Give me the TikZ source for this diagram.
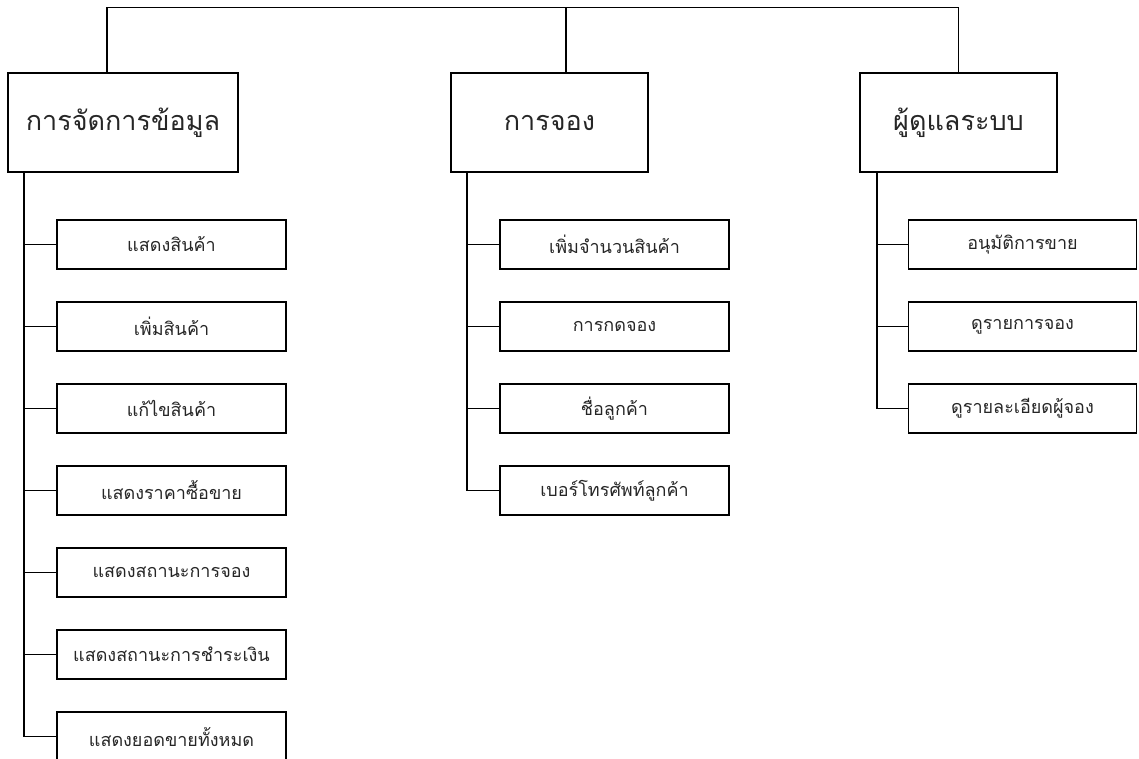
\documentclass[tikz,border=0pt]{standalone}
\usepackage{fontspec}
\newfontfamily\thaifont[Script=Thai]{Loma}

\begin{document}
\begin{tikzpicture}[x=1pt, y=-1pt, line width=1.2pt,
	headbox/.style={draw, minimum width=197pt, minimum height=99pt, text=black!85, font=\thaifont\fontsize{27}{31}\selectfont},
	itembox/.style={draw, minimum width=229pt, minimum height=49pt, text=black!85, font=\thaifont\fontsize{18}{22}\selectfont}]

\useasboundingbox (0,0) rectangle (1139,758);

\node[headbox, minimum width=230pt] (data) at (123,122.5) {การจัดการข้อมูล};
\node[headbox] (booking) at (549.5,122.5) {การจอง};
\node[headbox] (admin) at (958.5,122.5) {ผู้ดูแลระบบ};

\coordinate (topbar) at (0,7.5);
\coordinate (datatop) at ([xshift=-16pt]data.north);
\coordinate (booktop) at ([xshift=16.5pt]booking.north);
\draw (datatop) |- (topbar -| admin.north) -- (admin.north);
\draw (booktop) -- (booktop |- topbar);

\coordinate (databus) at (24,0);
\coordinate (bookbus) at (467,0);
\coordinate (adminbus) at (877,0);

\foreach \i/\txt in {1/แสดงสินค้า, 2/เพิ่มสินค้า, 3/แก้ไขสินค้า, 4/แสดงราคาซื้อขาย, 5/แสดงสถานะการจอง, 6/แสดงสถานะการชำระเงิน, 7/แสดงยอดขายทั้งหมด}
	{\node[itembox] (d\i) at (171.5,{244.5+(\i-1)*82}) {\txt};
	\draw (data.south -| databus) |- (d\i.west);}

\foreach \i/\txt in {1/เพิ่มจำนวนสินค้า, 2/การกดจอง, 3/ชื่อลูกค้า, 4/เบอร์โทรศัพท์ลูกค้า}
	{\node[itembox] (b\i) at (614.5,{244.5+(\i-1)*82}) {\txt};
	\draw (booking.south -| bookbus) |- (b\i.west);}

\foreach \i/\txt in {1/อนุมัติการขาย, 2/ดูรายการจอง, 3/ดูรายละเอียดผู้จอง}
	{\node[itembox, minimum width=228pt] (a\i) at (1022.5,{244.5+(\i-1)*82}) {\txt};
	\draw (admin.south -| adminbus) |- (a\i.west);}

\end{tikzpicture}
\end{document}
